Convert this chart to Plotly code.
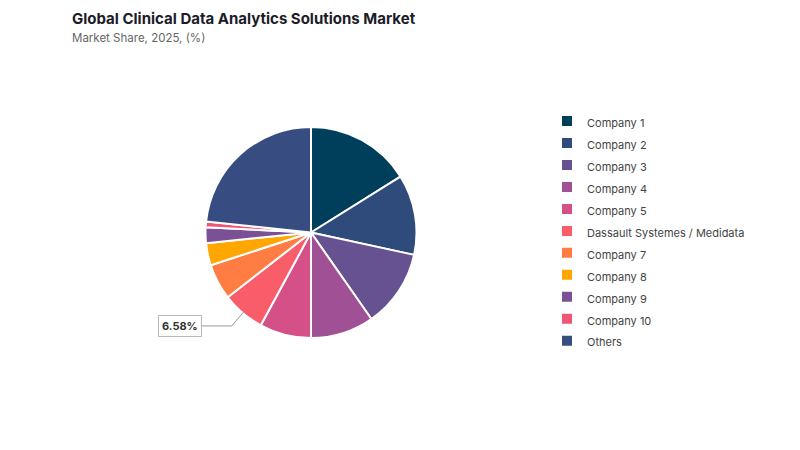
import math
import plotly.graph_objects as go

labels = ["Company 1", "Company 2", "Company 3", "Company 4", "Company 5",
          "Dassault Systemes / Medidata", "Company 7", "Company 8", "Company 9",
          "Company 10", "Others"]
shares = [16.1, 12.3, 11.9, 9.7, 7.9, 6.58, 5.5, 3.4, 2.4, 0.9, 23.32]
colors = ["#003f5c", "#2f4b7c", "#665191", "#a05195", "#d45087", "#f95d6a",
          "#ff7c43", "#ffa600", "#7a5195", "#ef5675", "#374c80"]
labelled = "Dassault Systemes / Medidata"

W, H = 800, 450
cx, cy, r = 311, 232.5, 105.5
FONT = "Inter, Roboto, sans-serif"

fig = go.Figure(go.Pie(
    labels=[f"<span style='font-size:11px'>{l}</span>" for l in labels],
    values=shares,
    sort=False,
    direction="clockwise",
    rotation=0,
    marker=dict(colors=colors, line=dict(color="white", width=2)),
    textinfo="none",
    hoverinfo="label+percent",
    domain=dict(x=[(cx - r) / W, (cx + r) / W], y=[1 - (cy + r) / H, 1 - (cy - r) / H]),
))

# callout for the labelled slice, placed from its data-derived mid angle
idx = labels.index(labelled)
total = sum(shares)
mid = (sum(shares[:idx]) + shares[idx] / 2) / total * 2 * math.pi
px0 = cx + (r - 2) * math.sin(mid)
py0 = cy - (r - 2) * math.cos(mid)
px1 = cx + (r + 17) * math.sin(mid)
py1 = cy - (r + 17) * math.cos(mid)
px2 = px1 - 30


def X(p):
    return p / W


def Y(p):
    return 1 - p / H


fig.add_shape(type="path", xref="paper", yref="paper",
              path=f"M {X(px0)} {Y(py0)} L {X(px1)} {Y(py1)} L {X(px2)} {Y(py1)}",
              line=dict(color="#999999", width=1))
fig.add_annotation(xref="paper", yref="paper", x=X(px2), y=Y(py1),
                   xanchor="right", yanchor="middle", showarrow=False,
                   text=f"<b>{shares[idx]:.2f}%</b>",
                   font=dict(family=FONT, size=11, color="#333333"),
                   bgcolor="white", bordercolor="#b8b8b8", borderwidth=1, borderpad=3)

# title and subtitle
fig.add_annotation(xref="paper", yref="paper", x=X(70), y=Y(18), xanchor="left", yanchor="middle",
                   showarrow=False, text="<b>Global Clinical Data Analytics Solutions Market</b>",
                   font=dict(family=FONT, size=15, color="#1c1c28"))
fig.add_annotation(xref="paper", yref="paper", x=X(70), y=Y(38), xanchor="left", yanchor="middle",
                   showarrow=False, text="Market Share, 2025, (%)",
                   font=dict(family=FONT, size=11.5, color="#666666"))

fig.update_layout(
    width=W, height=H,
    margin=dict(l=0, r=0, t=0, b=0),
    paper_bgcolor="white", plot_bgcolor="white",
    legend=dict(
        x=547 / W, xanchor="left", y=1 - 105 / H, yanchor="top",
        font=dict(family=FONT, size=14.6, color="#444444"),
        bgcolor="rgba(0,0,0,0)",
    ),
)

fig.write_html("out.html")
